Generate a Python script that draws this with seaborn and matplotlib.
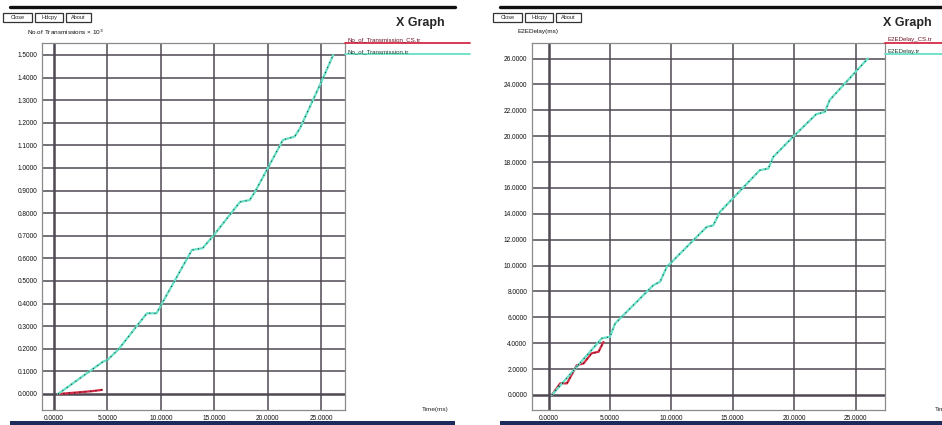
import pandas as pd
import seaborn as sns
import matplotlib.pyplot as plt
from matplotlib.patches import Rectangle
from matplotlib.lines import Line2D
from matplotlib.ticker import FormatStrFormatter

tx_time = [0.4, 4.6, 5.0, 6.0, 8.7, 9.6, 10.1, 12.9, 13.9, 14.9, 17.4, 18.3,
           18.8, 20.0, 21.4, 22.5, 23.0, 25.0, 26.1]
tx_count = [0.0, 0.143, 0.15, 0.195, 0.357, 0.357, 0.40, 0.637, 0.645, 0.70,
            0.85, 0.858, 0.895, 1.0, 1.124, 1.139, 1.176, 1.382, 1.5]
tx_cs_time = [0.4, 1.5, 2.5, 3.5, 4.5]
tx_cs_count = [0.0, 0.004, 0.008, 0.012, 0.018]

delay_time = [0.27, 4.34, 5.0, 5.42, 8.54, 9.08, 9.63, 12.88, 13.4, 13.96,
              17.2, 17.9, 18.3, 19.9, 21.8, 22.5, 22.9, 26.0]
delay_ms = [0.0, 4.38, 4.5, 5.53, 8.49, 8.75, 9.9, 12.99, 13.1, 14.15,
            17.37, 17.5, 18.4, 19.94, 21.7, 21.87, 22.8, 26.0]
delay_cs_time = [0.27, 0.95, 1.5, 2.3, 2.85, 3.5, 4.07, 4.47]
delay_cs_ms = [0.0, 0.9, 0.9, 2.3, 2.44, 3.22, 3.34, 4.1]

x_ticks = [0, 5, 10, 15, 20, 25]
tx_ticks = [i / 10 for i in range(16)]
delay_ticks = list(range(0, 27, 2))

tx_names = ["No_of_Transmission_CS.tr", "No_of_Transmission.tr"]
delay_names = ["E2EDelay_CS.tr", "E2EDelay.tr"]

sns.set_style("white")
plt.rcParams["font.family"] = ["Liberation Sans", "DejaVu Sans"]

W, H = 942, 425
fig = plt.figure(figsize=(W / 100, H / 100), dpi=100)

RED = "#d42a45"
GREEN = "#66e0c6"
GRID = "#4f4852"


def px_rect(l, t, r, b):
    return [l / W, (H - b) / H, (r - l) / W, (b - t) / H]


def draw_panel(ax, t_cs, v_cs, t, v, names, ticks, xlim, ylim):
    df = pd.DataFrame({
        "time": t_cs + t,
        "value": v_cs + v,
        "file": [names[0]] * len(t_cs) + [names[1]] * len(t),
    })
    for x in x_ticks:
        ax.axvline(x, color=GRID, lw=1.8 if x == 0 else 1.1, zorder=1)
    for y in ticks:
        ax.axhline(y, color=GRID, lw=1.8 if y == 0 else 1.1, zorder=1)
    sns.lineplot(data=df, x="time", y="value", hue="file",
                 palette={names[0]: RED, names[1]: GREEN},
                 estimator=None, sort=False, lw=1.6, legend=False,
                 ax=ax, zorder=3)
    # dark dots along each curve like xgraph
    for name in names:
        sub = df[df["file"] == name]
        ax.plot(sub["time"], sub["value"],
                color="#2a4a42" if name == names[1] else "#4a0a14",
                lw=0.9, ls=(0, (0.8, 3.5)), zorder=4)
    ax.set_xlim(*xlim)
    ax.set_ylim(*ylim)
    ax.set_xticks(x_ticks)
    ax.set_yticks(ticks)
    ax.xaxis.set_major_formatter(FormatStrFormatter("%.4f"))
    ax.yaxis.set_major_formatter(FormatStrFormatter("%.4f"))
    ax.tick_params(labelsize=4.7, length=2, width=0.6, color="#555", pad=1.5,
                   labelcolor="#111")
    ax.set_xlabel("")
    ax.set_ylabel("")
    for s in ax.spines.values():
        s.set_color("#8a8a8a")
        s.set_linewidth(0.9)


def window_chrome(x0, x1, ylabel, names, frame_r):
    # top dark bar and bottom blue bar
    fig.add_artist(Line2D([x0 / W, x1 / W], [(H - 7) / H] * 2, color="#101010", lw=2.4))
    fig.add_artist(Rectangle((x0 / W, 0), (x1 - x0) / W, 4 / H, color="#1c2a5c", lw=0))
    bx = x0 - 7
    for label, wd in [("Close", 29), ("Hdcpy", 28), ("About", 25)]:
        fig.add_artist(Rectangle((bx / W, (H - 22) / H), wd / W, 9 / H,
                                 fill=False, ec="#333", lw=0.9))
        fig.text((bx + wd / 2) / W, (H - 17.5) / H, label, fontsize=4,
                 ha="center", va="center", color="#222")
        bx += wd + 3
    fig.text((x1 - 35) / W, (H - 23) / H, "X Graph", fontsize=9, weight="bold",
             ha="center", va="center")
    fig.text((x0 + 17) / W, (H - 32) / H, ylabel, fontsize=4.6, ha="left",
             va="center", color="#111")
    # legend entries to the right of the frame
    for i, (name, col, tcol) in enumerate(zip(names, [RED, GREEN], ["#6a1020", "#153c30"])):
        yy = 42.5 + 11.5 * i
        fig.add_artist(Line2D([frame_r / W, (x1 + 15) / W], [(H - yy) / H] * 2,
                              color=col, lw=1.3))
        fig.text((frame_r + 3) / W, (H - yy + 2.5) / H, name, fontsize=4.4,
                 color=tcol, ha="left", va="center")


ax1 = fig.add_axes(px_rect(42, 43, 345, 410))
draw_panel(ax1, tx_cs_time, tx_cs_count, tx_time, tx_count, tx_names, tx_ticks,
           (-1.1, 27.2), (-0.071, 1.553))
window_chrome(10, 455, "No.of Transmissions \u00d7 10$^3$", tx_names, 345)
fig.text(435 / W, (H - 410) / H, "Time(ms)", fontsize=4.6, ha="center", va="center")

ax2 = fig.add_axes(px_rect(532, 43, 885, 410))
draw_panel(ax2, delay_cs_time, delay_cs_ms, delay_time, delay_ms, delay_names,
           delay_ticks, (-1.35, 27.4), (-1.16, 27.2))
window_chrome(500, 942, "E2EDelay(ms)", delay_names, 885)
# the reference window is cut at the right edge, only "Tim" shows
fig.text(935 / W, (H - 410) / H, "Time(ms)", fontsize=4.6, ha="left", va="center")

fig.savefig("out.png", dpi=100)
